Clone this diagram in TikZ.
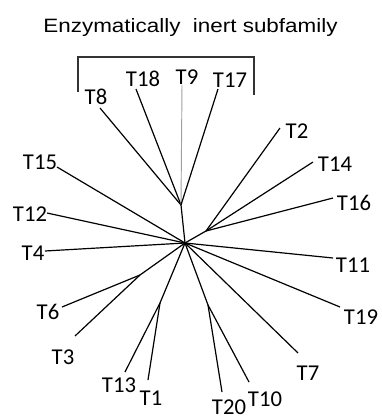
\documentclass[tikz,border=0pt]{standalone}
\usepackage{fontspec}
\setmainfont{Carlito}
\newfontfamily\titlefont{Liberation Sans}
\begin{document}
\begin{tikzpicture}[x=0.75pt,y=-0.75pt,
  branch/.style={line width=0.9pt,black},
  greybranch/.style={line width=0.7pt,gray!75},
  leaf/.style={inner sep=0pt,font=\fontsize{17}{18}\selectfont},
  bracketline/.style={line width=0.9pt,black!80}]
\useasboundingbox (0,0) rectangle (382,419);
% title
\node[anchor=base,inner sep=0pt] (title) at (190.5,32) {\titlefont\fontsize{14.5}{16}\selectfont\scalebox{1.16}[1]{Enzymatically\ \ inert subfamily}};
% bracket
\coordinate (bl) at (78,92);
\coordinate (br) at (254,95);
\draw[bracketline] (bl) -- (78,57) -- (254,57) -- (br);
% internal nodes
\coordinate (C) at (185,243);
\coordinate (A) at (181,205);
\coordinate (B) at (206,231);
\coordinate (D) at (140,275);
\coordinate (E) at (160,303);
\coordinate (F) at (208,305);
% leaf end points
\coordinate (e8) at (100,108);
\coordinate (e18) at (136,89);
\coordinate (e9) at (182,85);
\coordinate (e17) at (218,89);
\coordinate (e2) at (280,128);
\coordinate (e14) at (313,162);
\coordinate (e15) at (57,167);
\coordinate (e16) at (333,198);
\coordinate (e12) at (47,213);
\coordinate (e4) at (45,251);
\coordinate (e11) at (333,258);
\coordinate (e6) at (62,307);
\coordinate (e3) at (75,336);
\coordinate (e19) at (340,307);
\coordinate (e7) at (298,353);
\coordinate (e13) at (125,372);
\coordinate (e1) at (148,380);
\coordinate (e20) at (222,392);
\coordinate (e10) at (249,382);
% labels
\node[leaf] (t8) at (96,97) {T8};
\node[leaf] (t18) at (143,79) {T18};
\node[leaf] (t9) at (187,77) {T9};
\node[leaf] (t17) at (230,80) {T17};
\node[leaf] (t2) at (297,131) {T2};
\node[leaf] (t14) at (335,164) {T14};
\node[leaf] (t15) at (40,162) {T15};
\node[leaf] (t16) at (354,203) {T16};
\node[leaf] (t12) at (30,214) {T12};
\node[leaf] (t4) at (33,253) {T4};
\node[leaf] (t11) at (353,265) {T11};
\node[leaf] (t6) at (48,312) {T6};
\node[leaf] (t3) at (63,357) {T3};
\node[leaf] (t19) at (361,317) {T19};
\node[leaf] (t7) at (308,373) {T7};
\node[leaf] (t13) at (119,385) {T13};
\node[leaf] (t1) at (151,398) {T1};
\node[leaf] (t20) at (229,407.5) {T20};
\node[leaf] (t10) at (265,399) {T10};
% branches
\draw[branch] (C) -- (A);
\draw[branch] (A) -- (e8);
\draw[branch] (A) -- (e18);
\draw[greybranch] (A) -- (e9);
\draw[branch] (A) -- (e17);
\draw[branch] (C) -- (B);
\draw[branch] (B) -- (e2);
\draw[branch] (B) -- (e14);
\draw[branch] (B) -- (e16);
\draw[branch] (C) -- (e15);
\draw[branch] (C) -- (e12);
\draw[branch] (C) -- (e4);
\draw[branch] (C) -- (e11);
\draw[branch] (C) -- (e19);
\draw[branch] (C) -- (e7);
\draw[branch] (C) -- (D);
\draw[branch] (D) -- (e6);
\draw[branch] (D) -- (e3);
\draw[branch] (C) -- (E);
\draw[branch] (E) -- (e13);
\draw[branch] (E) -- (e1);
\draw[branch] (C) -- (F);
\draw[branch] (F) -- (e20);
\draw[branch] (F) -- (e10);
\end{tikzpicture}
\end{document}
